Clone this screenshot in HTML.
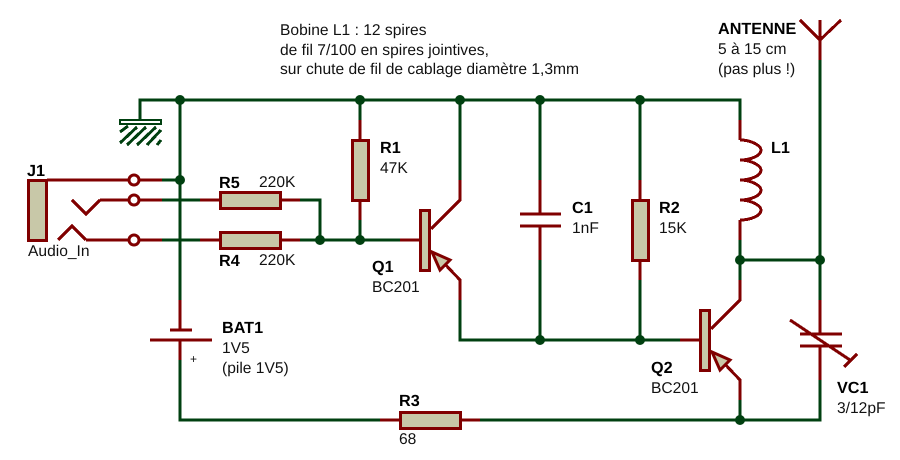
<!DOCTYPE html>
<html><head><meta charset="utf-8"><style>
html,body{margin:0;padding:0;background:#fff}
svg{display:block}
text{font-family:"Liberation Sans",Arial,sans-serif;font-size:15.6px;fill:#111;text-rendering:geometricPrecision}
.b{font-weight:bold;font-size:16.2px;fill:#000}
.g{fill:none;stroke:#004010;stroke-width:3;shape-rendering:crispEdges}
.r{fill:none;stroke:#800000;stroke-width:3;shape-rendering:crispEdges}
.box{fill:#c8c8a8;stroke:#800000;stroke-width:3;shape-rendering:crispEdges}
.h{stroke:#004010;stroke-width:3;fill:none;shape-rendering:crispEdges}
</style></head><body>
<svg width="900" height="460" viewBox="0 0 900 460" xmlns="http://www.w3.org/2000/svg">
<rect width="900" height="460" fill="#fff"/>
<!-- green wires -->
<path class="g" d="M140 120V100H740V120M180 100V300M140 100H180M160 180H180M160 200H200M160 240H200M300 200H320V240M300 240H400M360 220V240M360 100V120M460 100V180M540 100V180M640 100V180M540 260V340M640 260V340M460 300V340H680M180 360V420H380M480 420H820V380M740 400V420M740 240V280M740 260H820M820 60V300"/>
<!-- ground -->
<rect x="120" y="120" width="41" height="4" fill="#fff" stroke="#004010" stroke-width="2" shape-rendering="crispEdges"/>
<path class="h" d="M120 132L128 126M120 143L137 127M127 145L146 127M137 145L156 127M147 145L161 130M157 145L161 140"/>
<!-- red wires -->
<path class="r" d="M47 180H130M139 180H162M100 200H130M139 200H162M72 200L86 214L100 200M86 240H130M139 240H162M58 240L72 226L86 240M200 200H220M280 200H300M200 240H220M280 240H300"/>
<path class="r" d="M360 120V140M360 200V220M400 240H420"/>
<path class="r" d="M460 180V200L431 229M440 259L460 280V300"/>
<path class="r" d="M540 180V214M540 226V260M520 214H561M520 226H561"/>
<path class="r" d="M640 180V200M640 260V280"/>
<path class="r" d="M680 340H700"/>
<path class="r" d="M740 280V300L711 329M720 359L740 380V400"/>
<path class="r" d="M180 300V330M170 330H192M150 340H212M180 340V360"/>
<path class="r" d="M380 420H400M460 420H480"/>
<path class="r" d="M740 120V140M740 220V240"/>
<path class="r" d="M740 140C752 140 761 146 761 150C761 156 750 160 740 160C752 160 761 166 761 170C761 176 750 180 740 180C752 180 761 186 761 190C761 196 750 200 740 200C752 200 761 206 761 210C761 216 750 220 740 220"/>
<path class="r" d="M820 20V60M800 20L820 40L841 20"/>
<path class="r" d="M820 300V334M820 346V380M800 334H842M800 346H842M790 320L850 360M857 354L844 367"/>
<!-- jack circles -->
<circle cx="134" cy="180" r="5" fill="#fff" stroke="#800000" stroke-width="3"/>
<circle cx="134" cy="200" r="5" fill="#fff" stroke="#800000" stroke-width="3"/>
<circle cx="134" cy="240" r="5" fill="#fff" stroke="#800000" stroke-width="3"/>
<!-- boxes -->
<rect class="box" x="28.500" y="180.500" width="18" height="60"/>
<rect class="box" x="220.500" y="192.500" width="60" height="16"/>
<rect class="box" x="220.500" y="232.500" width="60" height="16"/>
<rect class="box" x="352.500" y="140.500" width="16" height="60"/>
<rect class="box" x="632.500" y="200.500" width="16" height="60"/>
<rect class="box" x="400.500" y="412.500" width="60" height="16"/>
<rect class="box" x="420.500" y="210.500" width="9" height="60"/>
<rect class="box" x="700.500" y="310.500" width="9" height="60"/>
<path d="M432 252L450 260L440 270Z" fill="#c8c8a8" stroke="#800000" stroke-width="3"/>
<path d="M712 352L730 360L720 370Z" fill="#c8c8a8" stroke="#800000" stroke-width="3"/>
<!-- junction dots -->
<g fill="#004010">
<circle cx="180" cy="100" r="5"/><circle cx="360" cy="100" r="5"/><circle cx="460" cy="100" r="5"/><circle cx="540" cy="100" r="5"/><circle cx="640" cy="100" r="5"/>
<circle cx="180" cy="180" r="5"/><circle cx="320" cy="240" r="5"/><circle cx="360" cy="240" r="5"/>
<circle cx="540" cy="340" r="5"/><circle cx="640" cy="340" r="5"/><circle cx="740" cy="260" r="5"/><circle cx="820" cy="260" r="5"/><circle cx="740" cy="420" r="5"/>
</g>
<!-- labels -->
<text x="280" y="35">Bobine L1 : 12 spires</text>
<text x="280" y="55">de fil 7/100 en spires jointives,</text>
<text x="280" y="74">sur chute de fil de cablage diamètre 1,3mm</text>
<text class="b" x="718" y="34">ANTENNE</text>
<text x="718" y="54">5 à 15 cm</text>
<text x="718" y="74">(pas plus !)</text>
<text class="b" x="27" y="176">J1</text>
<text x="28" y="256">Audio_In</text>
<text class="b" x="219" y="188">R5</text>
<text x="259" y="187">220K</text>
<text class="b" x="219" y="266">R4</text>
<text x="259" y="265">220K</text>
<text class="b" x="380" y="153">R1</text>
<text x="380" y="173">47K</text>
<text class="b" x="372" y="272">Q1</text>
<text x="372" y="292">BC201</text>
<text class="b" x="572" y="213">C1</text>
<text x="572" y="233">1nF</text>
<text class="b" x="659" y="213">R2</text>
<text x="659" y="233">15K</text>
<text class="b" x="771" y="153">L1</text>
<text class="b" x="651" y="373">Q2</text>
<text x="651" y="393">BC201</text>
<text class="b" x="837" y="393">VC1</text>
<text x="837" y="413">3/12pF</text>
<text class="b" x="222" y="333">BAT1</text>
<text x="222" y="353">1V5</text>
<text x="222" y="373">(pile 1V5)</text>
<text x="190" y="363" style="font-size:12px">+</text>
<text class="b" x="399" y="406">R3</text>
<text x="399" y="444">68</text>
</svg>
</body></html>
